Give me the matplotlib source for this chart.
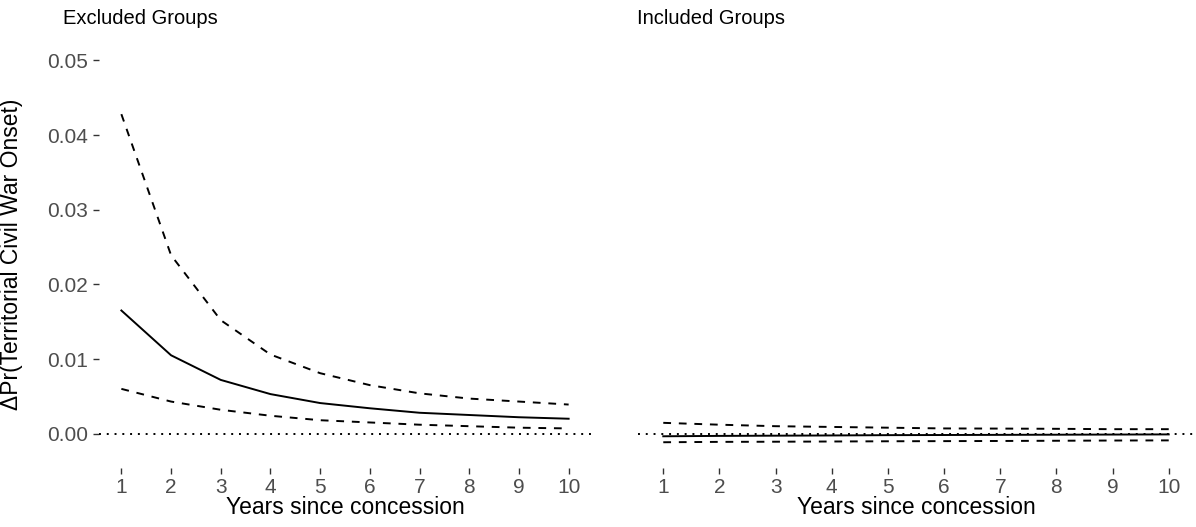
import matplotlib.pyplot as plt

plt.rcParams['font.family'] = ['Liberation Sans', 'DejaVu Sans']

years = [1, 2, 3, 4, 5, 6, 7, 8, 9, 10]

# Excluded groups: estimate and 95% bounds
excl_est = [0.0165, 0.0105, 0.0072, 0.0053, 0.0041, 0.0034, 0.0028, 0.0025, 0.0022, 0.0020]
excl_hi = [0.0428, 0.0239, 0.0152, 0.0106, 0.0081, 0.0065, 0.0054, 0.0047, 0.0043, 0.0039]
excl_lo = [0.0060, 0.0043, 0.0032, 0.0024, 0.0018, 0.0015, 0.0012, 0.0010, 0.0008, 0.0007]

# Included groups
incl_est = [-0.00035, -0.0003, -0.00027, -0.00024, -0.0002, -0.00018, -0.00016, -0.00014, -0.00012, -0.0001]
incl_hi = [0.00145, 0.0012, 0.0010, 0.0009, 0.0008, 0.0007, 0.00068, 0.00065, 0.0006, 0.0006]
incl_lo = [-0.00115, -0.0011, -0.00108, -0.00105, -0.00102, -0.001, -0.00098, -0.00095, -0.00092, -0.0009]

yticks = [0.00, 0.01, 0.02, 0.03, 0.04, 0.05]

W, H = 1196, 527
fig = plt.figure(figsize=(W / 100, H / 100), dpi=100)


def px_axes(x0, y0, x1, y1):
    # pixel box (from top-left) -> figure axes
    return fig.add_axes([x0 / W, 1 - y1 / H, (x1 - x0) / W, (y1 - y0) / H])


ax1 = px_axes(99, 41, 591, 468)
ax2 = px_axes(638, 41, 1194, 468)

lw = 1.4
panels = [(ax1, excl_est, excl_hi, excl_lo, 345),
          (ax2, incl_est, incl_hi, incl_lo, 916)]

for ax, est, hi, lo, xc in panels:
    ax.axhline(0, color='black', lw=lw, linestyle=(0, (1, 3)))
    ax.plot(years, est, color='black', lw=lw)
    ax.plot(years, hi, color='black', lw=lw, linestyle=(0, (4, 4)))
    ax.plot(years, lo, color='black', lw=lw, linestyle=(0, (4, 4)))
    ax.set_xlim(0.55, 10.45)
    ax.set_ylim(-0.0046, 0.0526)
    ax.set_xticks(years)
    ax.set_xticklabels([str(y) for y in years])
    for s in ax.spines.values():
        s.set_visible(False)
    ax.tick_params(axis='x', length=4, width=1, color='#333333', labelcolor='#4d4d4d',
                   labelsize=15, pad=3)
    fig.text(xc / W, 1 - 508 / H, 'Years since concession', fontsize=16.5,
             ha='center', va='center')

ax1.set_yticks(yticks)
ax1.set_yticklabels([f'{v:.2f}' for v in yticks])
ax1.tick_params(axis='y', length=4, width=1, color='#333333', labelcolor='#4d4d4d',
                labelsize=15, pad=4)
ax2.set_yticks([])
fig.text(12 / W, 1 - 254 / H, 'ΔPr(Territorial Civil War Onset)', fontsize=16.5,
         rotation=90, ha='center', va='center')

fig.text(63 / W, 1 - 18 / H, 'Excluded Groups', fontsize=14.5, va='center', ha='left')
fig.text(637 / W, 1 - 18 / H, 'Included Groups', fontsize=14.5, va='center', ha='left')

fig.savefig('out.png', dpi=100)
